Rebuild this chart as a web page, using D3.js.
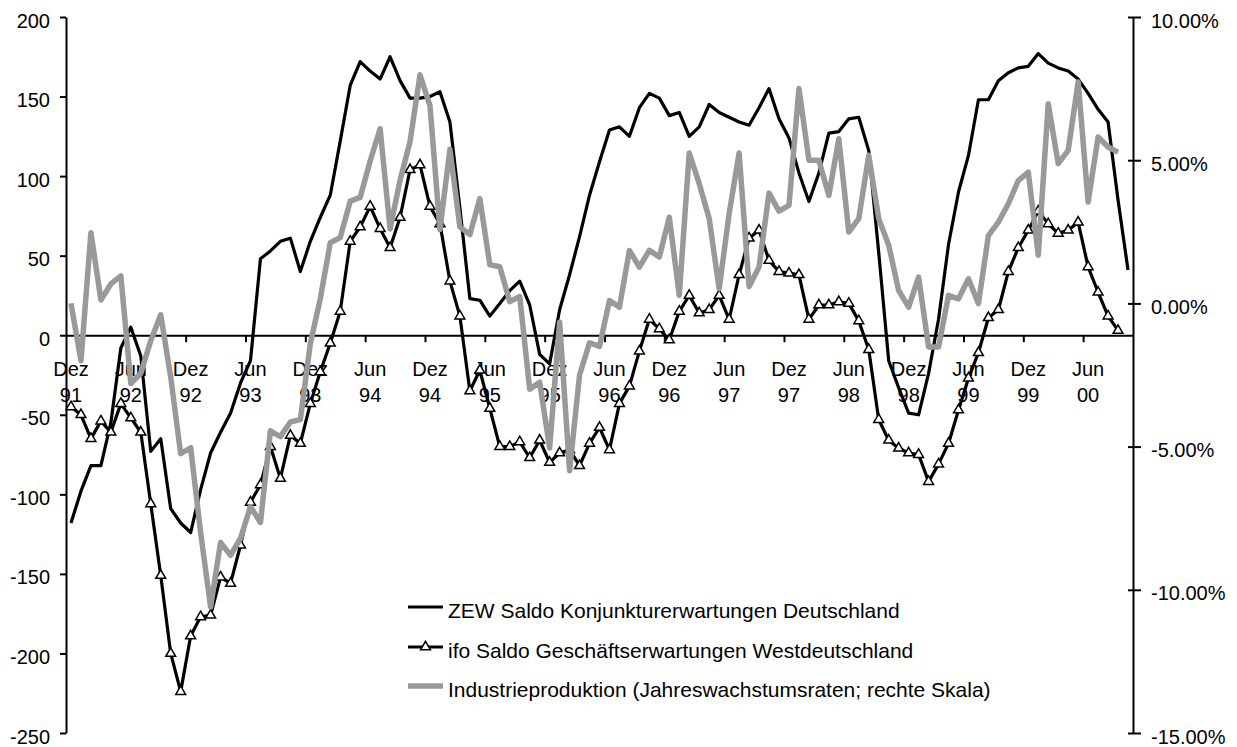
<!DOCTYPE html>
<html>
<head>
<meta charset="utf-8">
<script src="https://cdn.jsdelivr.net/npm/d3@7"></script>
<style>
  body { margin: 0; background: #fff; }
  text { font-family: Arial, "Liberation Sans", sans-serif; }
</style>
</head>
<body>
<div id="chart"></div>
<script>
var svgWidth = 1237;
var svgHeight = 747;

var margin = { top: 17, right: 104, bottom: 14, left: 66 };
var width = svgWidth - margin.left - margin.right;
var height = svgHeight - margin.top - margin.bottom;

// monthly categories, Dez 91 .. Okt 00
var monthNames = ['Jan', 'Feb', 'Mrz', 'Apr', 'Mai', 'Jun', 'Jul', 'Aug', 'Sep', 'Okt', 'Nov', 'Dez'];
var categories = [];
for (var i = 0; i < 107; i++) {
    var m = (11 + i) % 12;
    var yr = (91 + Math.floor((11 + i) / 12)) % 100;
    categories.push(monthNames[m] + ' ' + String(yr).padStart(2, '0'));
}
var tickLabels = categories.filter(function(d, i) { return i % 6 === 0; });

var zew = [-118, -98, -82, -82, -55, -8, 5, -13, -73, -65,
    -109, -118, -124, -97, -74, -61, -49, -30, -16, 48,
    53, 59, 61, 40, 59, 74, 88, 122, 157, 172,
    166, 161, 175, 160, 149, 149, 150, 153, 134, 80,
    23, 22, 12, 20, 28, 34, 19, -12, -18, 16,
    38, 62, 88, 109, 129, 131, 125, 143, 152, 149,
    138, 140, 125, 131, 145, 140, 137, 134, 132, 143,
    155, 136, 124, 102, 84, 102, 127, 128, 136, 137,
    116, 52, -16, -33, -49, -50, -24, 10, 57, 90,
    113, 148, 148, 160, 165, 168, 169, 177, 171, 168,
    166, 161, 152, 142, 134, 85, 41];

var ifo = [-45, -50, -65, -54, -61, -43, -52, -61, -106, -151,
    -200, -224, -189, -177, -176, -152, -156, -132, -105, -94,
    -70, -90, -63, -68, -43, -23, -5, 15, 59, 68,
    81, 67, 55, 74, 104, 107, 81, 70, 34, 12,
    -35, -22, -46, -70, -70, -67, -77, -66, -80, -74,
    -72, -82, -68, -58, -72, -43, -32, -10, 10, 4,
    -3, 15, 25, 14, 16, 25, 10, 38, 61, 66,
    47, 40, 39, 38, 10, 19, 19, 21, 20, 9,
    -9, -53, -66, -71, -74, -75, -92, -81, -68, -47,
    -27, -11, 11, 16, 40, 55, 66, 78, 70, 64,
    66, 71, 43, 27, 12, 3];

// Industrieproduktion, % yoy (right scale)
var ip = [0.0, -2.0, 2.47, 0.12, 0.68, 0.96, -2.8, -2.44, -1.3, -0.4,
    -2.57, -5.25, -5.04, -8.0, -10.6, -8.35, -8.8, -8.2, -7.1, -7.65,
    -4.45, -4.65, -4.14, -4.06, -1.4, 0.16, 2.12, 2.3, 3.57, 3.7,
    4.97, 6.1, 2.6, 4.3, 5.65, 7.98, 6.9, 2.58, 5.38, 2.67,
    2.4, 3.66, 1.35, 1.28, 0.06, 0.24, -3.0, -2.75, -5.05, -0.65,
    -5.84, -2.5, -1.38, -1.5, 0.1, -0.13, 1.85, 1.27, 1.85, 1.62,
    3.01, 0.28, 5.25, 4.18, 2.96, 0.51, 3.13, 5.25, 0.59, 1.27,
    3.85, 3.22, 3.42, 7.5, 5.0, 5.0, 3.77, 5.75, 2.49, 2.96,
    5.17, 2.96, 2.03, 0.45, -0.13, 0.92, -1.52, -1.52, 0.28, 0.16,
    0.86, -0.01, 2.37, 2.84, 3.48, 4.29, 4.58, 1.68, 6.97, 4.88,
    5.34, 7.73, 3.54, 5.81, 5.46, 5.28];

var leftTicks = [-250, -200, -150, -100, -50, 0, 50, 100, 150, 200];
var rightTicks = [-15, -10, -5, 0, 5, 10];

var legendNames = ['ZEW Saldo Konjunkturerwartungen Deutschland',
    'ifo Saldo Geschäftserwartungen Westdeutschland',
    'Industrieproduktion (Jahreswachstumsraten; rechte Skala)'];

var svg = d3.select('#chart')
    .append('svg')
    .attr('width', svgWidth)
    .attr('height', svgHeight);

var chartGroup = svg.append('g')
    .attr('transform', `translate(${margin.left}, ${margin.top})`);

var xScale = d3.scaleBand()
    .domain(categories)
    .range([0, width])
    .padding(0);
var xIndex = d3.scaleLinear()
    .domain([0, categories.length])
    .range([0, width]);
var yLeft = d3.scaleLinear()
    .domain([-250, 200])
    .range([height, 0]);
var yRight = d3.scaleLinear()
    .domain([-15, 10])
    .range([height, 0]);

function xPos(i) {
    return xScale(categories[i]) + xScale.bandwidth() / 2;
}

function styleAxis(g) {
    g.selectAll('path, line').attr('stroke', '#000').attr('stroke-width', 2);
    g.selectAll('text')
        .attr('font-size', 20)
        .attr('font-family', 'Arial, "Liberation Sans", sans-serif')
        .attr('fill', '#000');
}

// left axis (plain hyphen for minus, like the original)
var leftAxis = chartGroup.append('g')
    .call(d3.axisLeft(yLeft).tickValues(leftTicks).tickSize(6).tickSizeOuter(0).tickPadding(10)
        .tickFormat(function(d) { return String(d); }))
    .call(styleAxis);
leftAxis.selectAll('text').attr('dy', '0.5em');

// right axis
var rightAxis = chartGroup.append('g')
    .attr('transform', `translate(${width}, 0)`)
    .call(d3.axisRight(yRight).tickValues(rightTicks).tickSize(8).tickSizeOuter(0).tickPadding(10)
        .tickFormat(function(d) { return d.toFixed(2) + '%'; }))
    .call(styleAxis);
rightAxis.selectAll('.tick line').attr('x1', -5);
rightAxis.selectAll('text').attr('dy', '0.5em');

// category axis at zero
var zeroY = yLeft(0);
chartGroup.append('g')
    .attr('transform', `translate(0, ${zeroY})`)
    .call(d3.axisBottom(xIndex).tickValues(d3.range(6, categories.length, 6)).tickSize(7).tickSizeOuter(0).tickFormat(''))
    .call(styleAxis);

var xLabels = chartGroup.append('g')
    .attr('transform', `translate(0, ${zeroY})`)
    .call(d3.axisBottom(xScale).tickValues(tickLabels).tickSize(0))
    .call(styleAxis);
xLabels.select('.domain').remove();
xLabels.selectAll('text').each(function(d) {
    var parts = d.split(' ');
    var t = d3.select(this).text(null).attr('y', 0).attr('dy', null);
    t.append('tspan').attr('x', 0).attr('y', 41).text(parts[0]);
    t.append('tspan').attr('x', 0).attr('y', 67).text(parts[1]);
});

// series
var lineLeft = d3.line()
    .x(function(d, i) { return xPos(i); })
    .y(function(d) { return yLeft(d); });
var lineRight = d3.line()
    .x(function(d, i) { return xPos(i); })
    .y(function(d) { return yRight(d); });

chartGroup.append('path')
    .datum(zew)
    .attr('fill', 'none')
    .attr('stroke', '#000')
    .attr('stroke-width', 3.2)
    .attr('stroke-linejoin', 'round')
    .attr('d', lineLeft);

chartGroup.append('path')
    .datum(ifo)
    .attr('fill', 'none')
    .attr('stroke', '#000')
    .attr('stroke-width', 3.2)
    .attr('stroke-linejoin', 'round')
    .attr('d', lineLeft);

var triangle = d3.symbol().type(d3.symbolTriangle).size(42);
chartGroup.selectAll('.ifoMarker')
    .data(ifo)
    .enter()
    .append('path')
    .classed('ifoMarker', true)
    .attr('transform', function(d, i) { return `translate(${xPos(i)}, ${yLeft(d)})`; })
    .attr('d', triangle)
    .attr('fill', '#fff')
    .attr('stroke', '#000')
    .attr('stroke-width', 1.5);

chartGroup.append('path')
    .datum(ip)
    .attr('fill', 'none')
    .attr('stroke', '#999')
    .attr('stroke-width', 5.5)
    .attr('stroke-linejoin', 'round')
    .attr('d', lineRight);

// legend
var legend = svg.append('g')
    .attr('transform', 'translate(408, 607)');
var rowGap = [0, 40, 79];
legendNames.forEach(function(name, i) {
    var row = legend.append('g').attr('transform', `translate(0, ${rowGap[i]})`);
    row.append('line')
        .attr('x1', 0).attr('x2', 35)
        .attr('y1', 0).attr('y2', 0)
        .attr('stroke', i === 2 ? '#999' : '#000')
        .attr('stroke-width', i === 2 ? 5.5 : 3.2);
    if (i === 1) {
        row.append('path')
            .attr('transform', 'translate(17.5, 0)')
            .attr('d', triangle)
            .attr('fill', '#fff')
            .attr('stroke', '#000')
            .attr('stroke-width', 1.5);
    }
    row.append('text')
        .attr('transform', 'translate(40, 11) scale(1.05, 1)')
        .attr('font-size', 20)
        .attr('fill', '#000')
        .text(name);
});
</script>
</body>
</html>
